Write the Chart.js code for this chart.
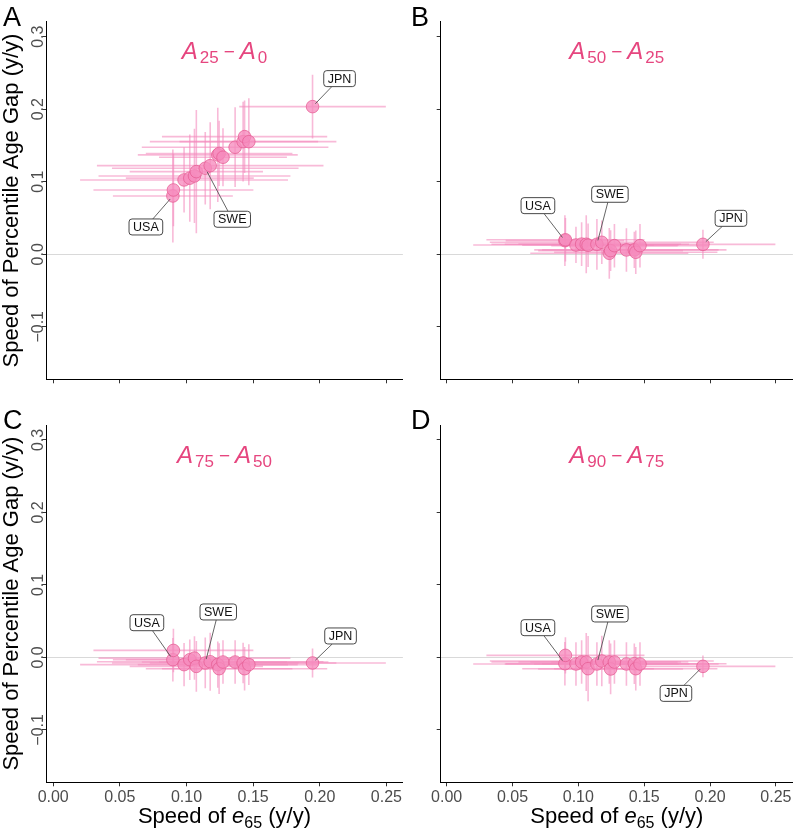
<!DOCTYPE html>
<html>
<head>
<meta charset="utf-8">
<script src="https://cdn.jsdelivr.net/npm/chart.js@4.4.0/dist/chart.umd.min.js"></script>
<style>
  body { margin: 0; background: #fff; }
  #wrap { position: relative; width: 800px; height: 832px; overflow: hidden; }
  canvas { position: absolute; }
</style>
</head>
<body>
<div id="wrap">
  <canvas id="chartA" width="410" height="410" style="left:0;top:0"></canvas>
  <canvas id="chartB" width="390" height="410" style="left:410px;top:0"></canvas>
  <canvas id="chartC" width="410" height="422" style="left:0;top:410px"></canvas>
  <canvas id="chartD" width="390" height="422" style="left:410px;top:410px"></canvas>
</div>
<script>
// countries, ordered by speed of e65
const countries = ['USA', 'DNK', 'NLD', 'NOR', 'GBR', 'BEL', 'SWE', 'FIN', 'AUT', 'CAN', 'ITA', 'CHE', 'ESP', 'AUS', 'FRA', 'JPN'];
const speedE65 = [0.0898, 0.0902, 0.0982, 0.1025, 0.1060, 0.1074, 0.1141, 0.1178, 0.1235, 0.1245, 0.1274, 0.1365, 0.1425, 0.1436, 0.1468, 0.1946];
const speedE65Err = [0.045, 0.060, 0.078, 0.048, 0.072, 0.050, 0.070, 0.085, 0.060, 0.055, 0.048, 0.070, 0.070, 0.062, 0.052, 0.055];

// speed of percentile age gaps (y/y)
const gapA25A0 = [0.0804, 0.0887, 0.1025, 0.1050, 0.1080, 0.1140, 0.1186, 0.1222, 0.1370, 0.1390, 0.1338, 0.1476, 0.1553, 0.1622, 0.1553, 0.2036];
const gapA25A0Err = [0.064, 0.050, 0.045, 0.060, 0.065, 0.085, 0.050, 0.060, 0.065, 0.045, 0.040, 0.055, 0.055, 0.050, 0.060, 0.044];
const gapA50A25 = [0.0188, 0.0200, 0.0128, 0.0140, 0.0138, 0.0125, 0.0138, 0.0165, 0.0014, 0.0050, 0.0119, 0.0060, 0.0060, 0.0028, 0.0119, 0.0137];
const gapA50A25Err = [0.035, 0.030, 0.025, 0.030, 0.040, 0.030, 0.035, 0.030, 0.035, 0.028, 0.030, 0.030, 0.025, 0.030, 0.030, 0.020];
const gapA75A50 = [-0.0032, 0.0096, -0.0100, -0.0032, -0.0010, -0.0124, -0.0077, -0.0060, -0.0100, -0.0156, -0.0064, -0.0064, -0.0077, -0.0156, -0.0100, -0.0077];
const gapA75A50Err = [0.030, 0.030, 0.030, 0.028, 0.030, 0.035, 0.035, 0.040, 0.032, 0.035, 0.030, 0.030, 0.028, 0.030, 0.028, 0.020];
const gapA90A75 = [-0.0087, 0.0028, -0.0091, -0.0064, -0.0064, -0.0156, -0.0091, -0.0050, -0.0064, -0.0160, -0.0064, -0.0091, -0.0087, -0.0156, -0.0091, -0.0124];
const gapA90A75Err = [0.030, 0.025, 0.030, 0.030, 0.040, 0.045, 0.030, 0.035, 0.030, 0.035, 0.030, 0.030, 0.028, 0.030, 0.030, 0.015];

const xTicks = [0, 0.05, 0.10, 0.15, 0.20, 0.25];
const yTicks = [-0.1, 0, 0.1, 0.2, 0.3];

const FONT = '"Liberation Sans", Arial, Helvetica, sans-serif';
const TITLE_COLOR = '#e6467f';
Chart.defaults.font.family = FONT;

const panels = [
  { id: 'chartA', letter: 'A', subs: ['25', '0'], gap: gapA25A0, err: gapA25A0Err, col: 0, row: 0,
    tags: { USA: [-27, 31], SWE: [27, 51], JPN: [27, -28] } },
  { id: 'chartB', letter: 'B', subs: ['50', '25'], gap: gapA50A25, err: gapA50A25Err, col: 1, row: 0,
    tags: { USA: [-27, -35], SWE: [13, -50], JPN: [28, -26] } },
  { id: 'chartC', letter: 'C', subs: ['75', '50'], gap: gapA75A50, err: gapA75A50Err, col: 0, row: 1,
    tags: { USA: [-26, -37], SWE: [13, -51], JPN: [28, -27] } },
  { id: 'chartD', letter: 'D', subs: ['90', '75'], gap: gapA90A75, err: gapA90A75Err, col: 1, row: 1,
    tags: { USA: [-27, -36], SWE: [13, -50], JPN: [-27, 27] } }
];

function fmtY(v) {
  if (Math.abs(v) < 1e-9) return '0.0';
  return (v < 0 ? '\u2212' : '') + Math.abs(v).toFixed(1);
}

// draw the little ggrepel-like label box with its segment
function drawTag(ctx, px, py, text, dx, dy) {
  ctx.font = '12.5px ' + FONT;
  const w = ctx.measureText(text).width + 8, h = 16;
  const cx = px + dx, cy = py + dy;
  const vx = px - cx, vy = py - cy;
  const t = Math.min(Math.abs((w / 2) / vx), Math.abs((h / 2) / vy));
  const len = Math.hypot(vx, vy);
  ctx.strokeStyle = '#555';
  ctx.lineWidth = 0.9;
  ctx.beginPath();
  ctx.moveTo(cx + vx * t, cy + vy * t);
  ctx.lineTo(px - vx / len * 4, py - vy / len * 4);
  ctx.stroke();
  ctx.beginPath();
  ctx.roundRect(cx - w / 2, cy - h / 2, w, h, 3);
  ctx.fillStyle = '#fff';
  ctx.fill();
  ctx.strokeStyle = '#333';
  ctx.lineWidth = 0.9;
  ctx.stroke();
  ctx.fillStyle = '#111';
  ctx.textAlign = 'center';
  ctx.textBaseline = 'middle';
  ctx.fillText(text, cx, cy + 0.5);
}

// A_xx − A_yy title
function drawTitle(ctx, cx, baseline, subs) {
  const parts = [
    { t: 'A', f: 'italic 24px ' + FONT, dy: 0, gap: 2 },
    { t: subs[0], f: '17px ' + FONT, dy: 4, gap: 5 },
    { t: '\u2212', f: '19px ' + FONT, dy: -1, gap: 5 },
    { t: 'A', f: 'italic 24px ' + FONT, dy: 0, gap: 2 },
    { t: subs[1], f: '17px ' + FONT, dy: 4, gap: 0 }
  ];
  let total = 0;
  parts.forEach(p => { ctx.font = p.f; p.w = ctx.measureText(p.t).width; total += p.w + p.gap; });
  let x = cx - total / 2;
  ctx.fillStyle = TITLE_COLOR;
  ctx.textAlign = 'left';
  ctx.textBaseline = 'alphabetic';
  parts.forEach(p => { ctx.font = p.f; ctx.fillText(p.t, x, baseline + p.dy); x += p.w + p.gap; });
}

function drawXTitle(ctx, cx, baseline) {
  const parts = [
    { t: 'Speed of ', f: '22px ' + FONT, dy: 0 },
    { t: 'e', f: 'italic 22px ' + FONT, dy: 0 },
    { t: '65', f: '16px ' + FONT, dy: 5 },
    { t: ' (y/y)', f: '22px ' + FONT, dy: 0 }
  ];
  let total = 0;
  parts.forEach(p => { ctx.font = p.f; p.w = ctx.measureText(p.t).width; total += p.w; });
  let x = cx - total / 2;
  ctx.fillStyle = '#000';
  ctx.textAlign = 'left';
  ctx.textBaseline = 'alphabetic';
  parts.forEach(p => { ctx.font = p.f; ctx.fillText(p.t, x, baseline + p.dy); x += p.w; });
}

function makeDecor(p) {
  return {
    id: 'decor' + p.letter,
    beforeDatasetsDraw(chart) {
      const ctx = chart.ctx, xs = chart.scales.x, ys = chart.scales.y, area = chart.chartArea;
      ctx.save();
      ctx.beginPath();
      ctx.rect(area.left, area.top, area.right - area.left, area.bottom - area.top);
      ctx.clip();
      ctx.strokeStyle = 'rgba(243, 140, 190, 0.6)';
      ctx.lineWidth = 1.6;
      speedE65.forEach((x, i) => {
        const y = p.gap[i];
        const px = xs.getPixelForValue(x), py = ys.getPixelForValue(y);
        ctx.beginPath();
        ctx.moveTo(xs.getPixelForValue(x - speedE65Err[i]), py);
        ctx.lineTo(xs.getPixelForValue(x + speedE65Err[i]), py);
        ctx.stroke();
        ctx.beginPath();
        ctx.moveTo(px, ys.getPixelForValue(y - p.err[i]));
        ctx.lineTo(px, ys.getPixelForValue(y + p.err[i]));
        ctx.stroke();
      });
      ctx.restore();
    },
    afterDatasetsDraw(chart) {
      const ctx = chart.ctx, xs = chart.scales.x, ys = chart.scales.y;
      ctx.save();
      Object.keys(p.tags).forEach(name => {
        const i = countries.indexOf(name);
        const px = xs.getPixelForValue(speedE65[i]), py = ys.getPixelForValue(p.gap[i]);
        drawTag(ctx, px, py, name, p.tags[name][0], p.tags[name][1]);
      });
      ctx.restore();
    },
    afterDraw(chart) {
      const ctx = chart.ctx, ys = chart.scales.y, area = chart.chartArea;
      const midX = (area.left + area.right) / 2;
      ctx.save();
      // panel letter
      ctx.font = '27px ' + FONT;
      ctx.fillStyle = '#000';
      ctx.textAlign = 'left';
      ctx.textBaseline = 'alphabetic';
      ctx.fillText(p.letter, p.col === 0 ? 3 : 1, p.row === 0 ? 26 : 19);
      // panel title
      drawTitle(ctx, midX, area.top + 37.5, p.subs);
      if (p.col === 0) {
        // rotated y tick labels
        ctx.font = '16px ' + FONT;
        ctx.fillStyle = '#4d4d4d';
        ctx.textAlign = 'center';
        ctx.textBaseline = 'alphabetic';
        yTicks.forEach(v => {
          ctx.save();
          ctx.translate(42.5, ys.getPixelForValue(v));
          ctx.rotate(-Math.PI / 2);
          ctx.fillText(fmtY(v), 0, 0);
          ctx.restore();
        });
        // y axis title
        ctx.font = '22px ' + FONT;
        ctx.fillStyle = '#000';
        ctx.save();
        ctx.translate(18, (area.top + area.bottom) / 2);
        ctx.rotate(-Math.PI / 2);
        ctx.fillText('Speed of Percentile Age Gap (y/y)', 0, 0);
        ctx.restore();
      }
      if (p.row === 1) {
        drawXTitle(ctx, midX, 413);
      }
      ctx.restore();
    }
  };
}

function makeChart(p) {
  const canvas = document.getElementById(p.id);
  const isLeft = p.col === 0;
  const isBottom = p.row === 1;
  const canvasH = canvas.height;
  const plotTop = isBottom ? 15 : 21.7;
  const plotBottom = isBottom ? 372.3 : 379.3;
  const yAxisW = isLeft ? 46 : 30.7;
  return new Chart(canvas, {
    type: 'scatter',
    data: {
      datasets: [{
        data: speedE65.map((x, i) => ({ x: x, y: p.gap[i] })),
        pointRadius: 6.3,
        pointHoverRadius: 6.3,
        backgroundColor: 'rgba(246, 140, 190, 0.78)',
        borderColor: 'rgba(228, 90, 145, 0.9)',
        borderWidth: 0.8
      }]
    },
    options: {
      responsive: false,
      animation: false,
      layout: { padding: { top: plotTop, right: isLeft ? 3 : 0, left: 0, bottom: 0 } },
      plugins: { legend: { display: false }, tooltip: { enabled: false } },
      scales: {
        x: {
          type: 'linear',
          min: isLeft ? -0.0054 : -0.0045,
          max: isLeft ? 0.2624 : 0.2629,
          afterBuildTicks: s => { s.ticks = xTicks.map(v => ({ value: v })); },
          afterFit: s => { s.height = canvasH - plotBottom; },
          grid: { drawOnChartArea: false, tickLength: 4, tickColor: '#333' },
          border: { display: true, color: '#000', width: 1 },
          ticks: {
            display: isBottom,
            color: '#4d4d4d',
            font: { size: 16 },
            padding: 2,
            maxRotation: 0,
            autoSkip: false,
            callback: v => v.toFixed(2)
          }
        },
        y: {
          type: 'linear',
          min: -0.1724,
          max: 0.3207,
          afterBuildTicks: s => { s.ticks = yTicks.map(v => ({ value: v })); },
          afterFit: s => { s.width = yAxisW; },
          grid: {
            color: c => (c.tick && Math.abs(c.tick.value) < 1e-9) ? '#d9d9d9' : 'rgba(0,0,0,0)',
            tickLength: 4,
            tickColor: '#333'
          },
          border: { display: true, color: '#000', width: 1 },
          ticks: { display: false }
        }
      }
    },
    plugins: [makeDecor(p)]
  });
}

panels.forEach(makeChart);
</script>
</body>
</html>
